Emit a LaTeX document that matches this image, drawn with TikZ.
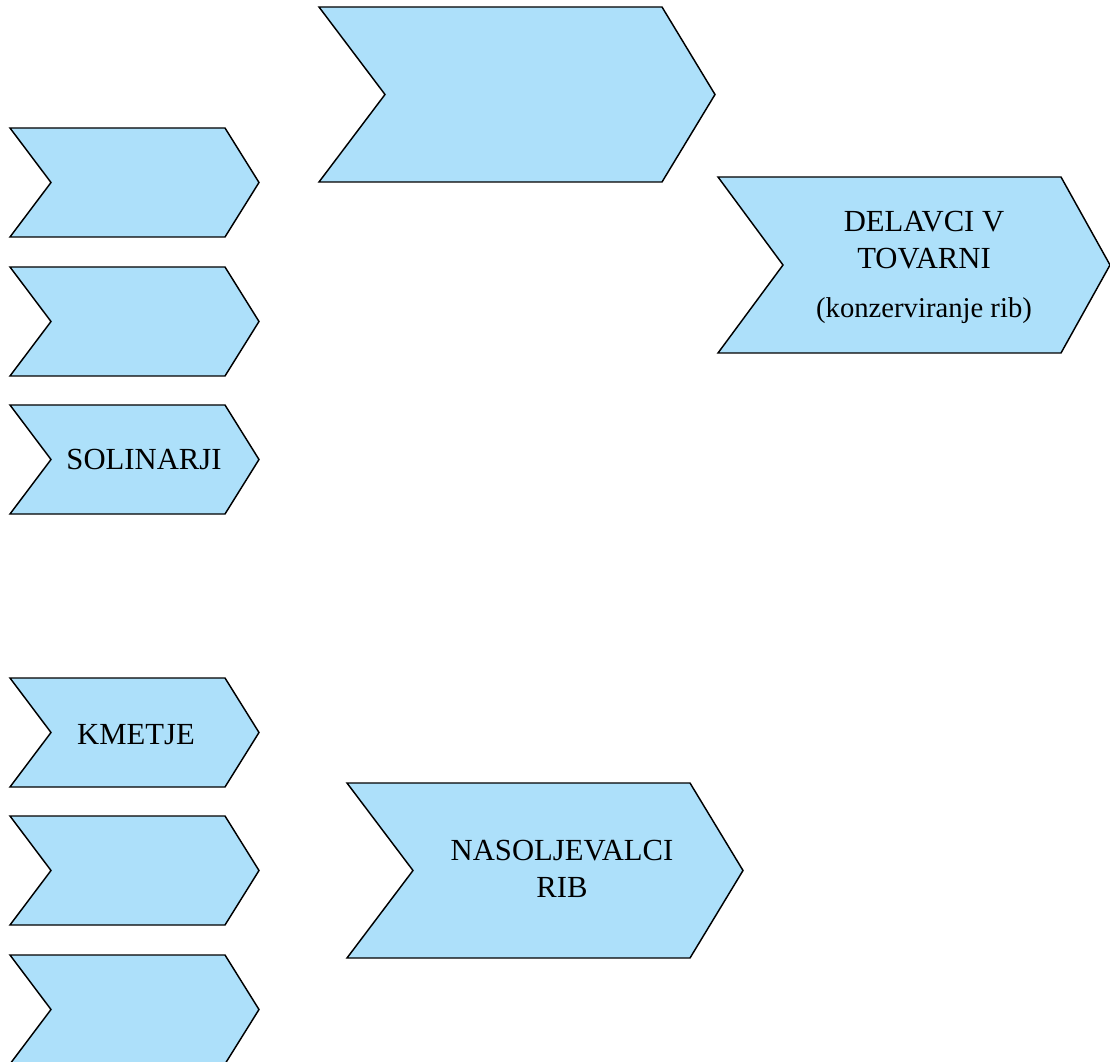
\documentclass[tikz,border=0pt]{standalone}
\usepackage{fontspec}
\setmainfont{Liberation Serif}
\usetikzlibrary{positioning}
\definecolor{chevblue}{RGB}{173,224,250}
\tikzset{
  chev/.style={draw=black,fill=chevblue,line width=1.1pt,line join=miter},
  chevtext/.style={font=\fontsize{23}{27.5}\selectfont,align=center,inner sep=0pt},
  subtext/.style={font=\fontsize{21.5}{25}\selectfont,inner sep=0pt}
}
% chevron: left, top, bottom, notch x, right x, tip x
\newcommand\drawchevron[6]{%
  \path[chev] (#1,#2) -- (#5,#2) -- (#6,{(#2+#3)/2}) -- (#5,#3)
    -- (#1,#3) -- (#4,{(#2+#3)/2}) -- cycle;}
\begin{document}
\begin{tikzpicture}[x=0.75pt,y=-0.75pt]
\useasboundingbox (0,0) rectangle (1110,1062);
\clip (0,0) rectangle (1110,1062);
% left column, upper group
\foreach \t in {128,267,405}
  \drawchevron{10}{\t}{\t+109}{51}{225}{259};
% left column, lower group
\foreach \t in {678,816,955}
  \drawchevron{10}{\t}{\t+109}{51}{225}{259};
% large chevrons
\drawchevron{319}{7}{182}{385}{662}{715}
\drawchevron{718}{177}{353}{783}{1061}{1110}
\drawchevron{347}{783}{958}{413}{690}{743}
% labels
\node[chevtext] (solinarji) at (144,459) {SOLINARJI};
\node[chevtext] (kmetje) at (136,735) {KMETJE};
\node[chevtext] (delavci) at (924,240) {DELAVCI V\\TOVARNI};
\node[subtext,anchor=base] (konzerviranje) at (924,318) {(konzerviranje rib)};
\node[chevtext] (nasoljevalci) at (562,869) {NASOLJEVALCI\\RIB};
\end{tikzpicture}
\end{document}
